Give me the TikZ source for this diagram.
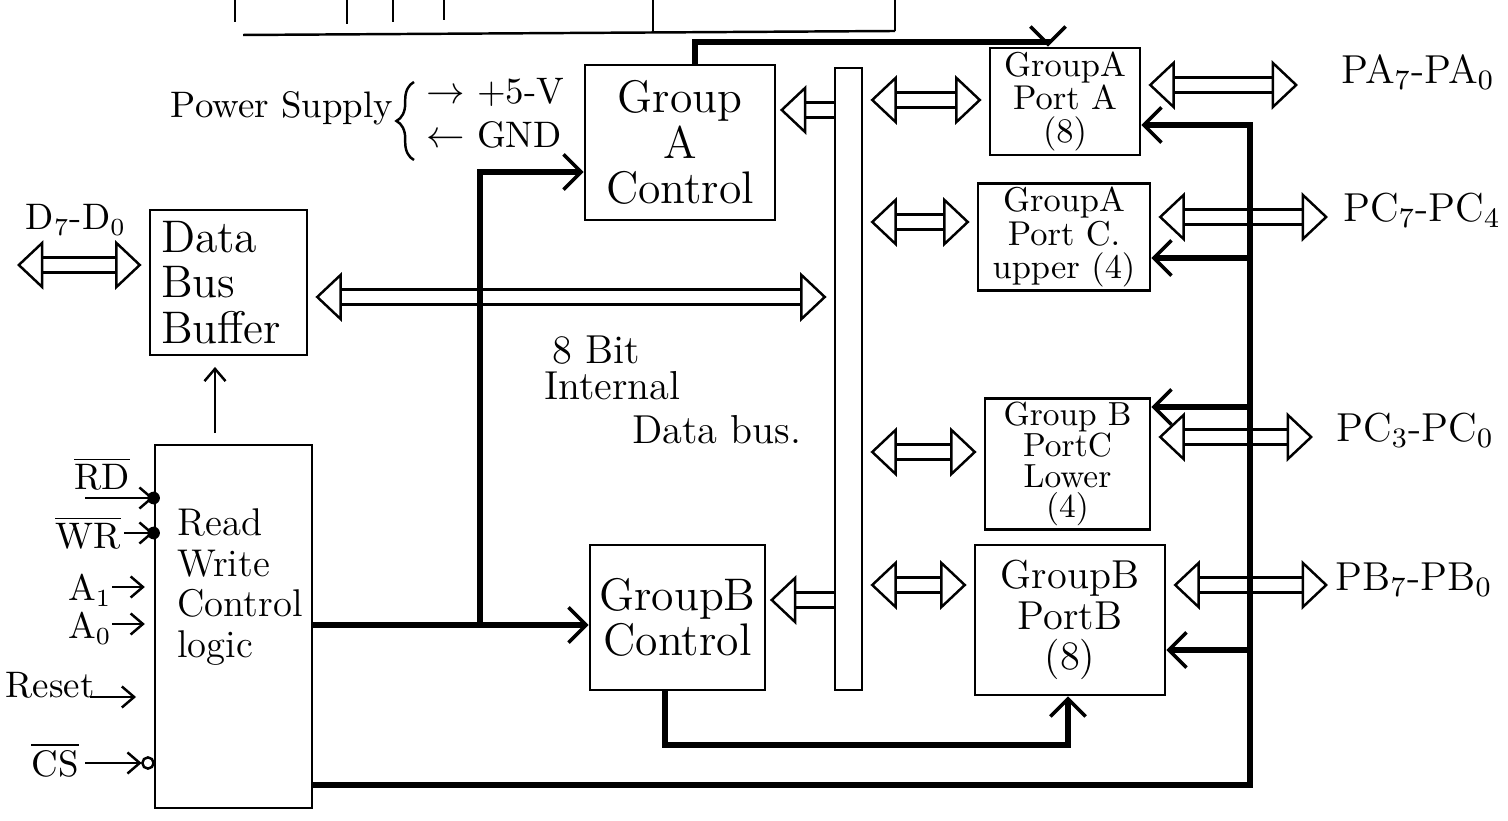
\documentclass[tikz,border=0pt]{standalone}
\usetikzlibrary{arrows.meta,decorations.pathreplacing}
\tikzset{
  box/.style={draw, line width=0.8pt, inner sep=1pt, align=center},
  Hol/.tip={Triangle[open, length=7.5pt, width=14pt, line width=0.7pt]},
  wide/.style={double, double distance=3.6pt, line width=0.7pt},
  wboth/.style={wide, Hol-Hol, shorten <=2pt, shorten >=2pt},
  wone/.style={wide, -Hol, shorten >=1pt},
  ctl/.style={line width=1.6pt, -{Straight Barb[length=5pt, width=10pt, line width=1pt]}},
  sig/.style={line width=0.7pt, -{Straight Barb[length=3.5pt, width=6pt]}},
  thinl/.style={line width=0.7pt},
  lab/.style={inner sep=1pt},
  fbig/.style={font=\fontsize{13}{13}\selectfont},
  fmid/.style={font=\fontsize{11.5}{11.5}\selectfont},
  frw/.style={font=\fontsize{11}{11.5}\selectfont},
  fsm/.style={font=\fontsize{10.5}{10.5}\selectfont},
  fport/.style={font=\fontsize{9.8}{9.4}\selectfont},
  ftiny/.style={font=\fontsize{9.5}{8.8}\selectfont},
}
\begin{document}
\begin{tikzpicture}
\useasboundingbox (0,0) rectangle (15.08,-8.21);

% partial content at the top edge
\draw[thinl] (2.43,-0.35) -- (8.95,-0.31);
\draw[thinl] (2.35,0) -- (2.35,-0.22);
\draw[thinl] (3.47,0) -- (3.47,-0.24);
\draw[thinl] (3.93,0) -- (3.93,-0.22);
\draw[thinl] (4.44,0) -- (4.44,-0.20);
\draw[thinl] (6.53,0) -- (6.53,-0.33);
\draw[thinl] (8.95,0) -- (8.95,-0.31);

% blocks
\node[box, fbig, minimum width=1.90cm, minimum height=1.55cm] (gac) at (6.80,-1.425) {Group\\A\\Control};
\node[box, fbig, minimum width=1.57cm, minimum height=1.45cm, align=left, text width=1.35cm] (dbb) at (2.285,-2.825) {Data\\Bus\\Buffer};
\node[box, minimum width=1.57cm, minimum height=3.63cm] (rwl) at (2.335,-6.265) {};
\node[lab, frw, align=left] (rwlt) at (2.40,-5.87) {Read\\Write\\Control\\logic};
\node[box, fbig, minimum width=1.75cm, minimum height=1.45cm] (gbc) at (6.775,-6.175) {GroupB\\Control};
\node[draw, line width=0.8pt, minimum width=0.27cm, minimum height=6.22cm, inner sep=0pt] (bus) at (8.485,-3.79) {};
\node[box, fport, minimum width=1.50cm, minimum height=1.07cm] (pa) at (10.65,-1.015) {GroupA\\Port A\\(8)};
\node[box, fport, minimum width=1.72cm, minimum height=1.00cm] (pcu) at (10.64,-2.37) {GroupA\\Port C.\\upper (4)};
\node[box, ftiny, minimum width=1.65cm, minimum height=1.28cm] (pcl) at (10.675,-4.64) {Group B\\PortC\\Lower\\(4)};
\node[box, fmid, minimum width=1.90cm, minimum height=1.50cm] (pb) at (10.70,-6.20) {GroupB\\PortB\\(8)};

% power supply
\node[lab, fsm] (ps) at (2.82,-1.08) {Power Supply};
\draw[thinl, decorate, decoration={brace, amplitude=5pt}] (4.14,-1.60) -- (4.14,-0.82);
\node[lab, fsm, anchor=west] (p5) at (4.22,-0.92) {$\rightarrow$ +5-V};
\node[lab, fsm, anchor=west] (gnd) at (4.22,-1.35) {$\leftarrow$ GND};

% internal data bus label
\node[lab, fmid, anchor=west] (ib1) at (5.48,-3.50) {8 Bit};
\node[lab, fmid, anchor=west] (ib2) at (5.40,-3.86) {Internal};
\node[lab, fmid, anchor=west] (ib3) at (6.28,-4.30) {Data bus.};

% wide data arrows
\coordinate (d7end) at (0.10,-2.65);
\draw[wboth] (d7end) -- (d7end -| dbb.west);
\node[lab, fsm] (d7lab) at (0.76,-2.20) {D$_7$-D$_0$};
\draw[wboth] (dbb.east |- 0,-2.97) -- (bus.west |- 0,-2.97);
\draw[wone] (bus.west |- 0,-1.10) -- (gac.east |- 0,-1.10);
\draw[wone] (bus.west |- 0,-6.00) -- (gbc.east |- 0,-6.00);
\draw[wboth] (bus.east |- 0,-1.00) -- (pa.west |- 0,-1.00);
\draw[wboth] (bus.east |- 0,-2.22) -- (pcu.west |- 0,-2.22);
\draw[wboth] (bus.east |- 0,-4.52) -- (pcl.west |- 0,-4.52);
\draw[wboth] (bus.east |- 0,-5.85) -- (pb.west |- 0,-5.85);

\coordinate (pao) at (13.05,-0.85);
\draw[wboth] (pa.east |- pao) -- (pao);
\node[lab, fmid] (palab) at (14.18,-0.72) {PA$_7$-PA$_0$};
\coordinate (pco) at (13.35,-2.17);
\draw[wboth] (pcu.east |- pco) -- (pco);
\node[lab, fmid] (pculab) at (14.22,-2.10) {PC$_7$-PC$_4$};
\coordinate (plo) at (13.20,-4.37);
\draw[wboth] (pcl.east |- plo) -- (plo);
\node[lab, fmid] (pcllab) at (14.15,-4.30) {PC$_3$-PC$_0$};
\coordinate (pbo) at (13.35,-5.85);
\draw[wboth] (pb.east |- pbo) -- (pbo);
\node[lab, fmid] (pblab) at (14.14,-5.80) {PB$_7$-PB$_0$};

% control lines
\coordinate (jA) at (4.80,-1.72);
\coordinate (jB) at (4.80,-6.25);
\draw[ctl] (rwl.east |- jB) -- (jB -| gbc.west);
\draw[ctl] (jB) -- (jA) -- (jA -| gac.west);

\coordinate (tA) at (6.95,-0.42);
\coordinate (tB) at (10.48,-0.42);
\draw[ctl] (gac.north -| tA) -- (tA) -- (tB) -- (tB |- pa.north);

\coordinate (bA) at (6.65,-7.45);
\coordinate (bB) at (10.68,-7.45);
\draw[ctl] (gbc.south -| bA) -- (bA) -- (bB) -- (bB |- pb.south);

\coordinate (rA) at (12.50,-7.85);
\coordinate (rB) at (12.50,-1.25);
\coordinate (rC) at (12.50,-2.58);
\coordinate (rD) at (12.50,-4.07);
\coordinate (rE) at (12.50,-6.50);
\draw[ctl] (rwl.east |- rA) -- (rA) -- (rB) -- (rB -| pa.east);
\draw[ctl] (rC) -- (rC -| pcu.east);
\draw[ctl] (rD) -- (rD -| pcl.east);
\draw[ctl] (rE) -- (rE -| pb.east);

% read/write logic to data bus buffer
\coordinate (up) at (2.15,0);
\draw[sig, shorten <=3pt, shorten >=3pt] (rwl.north -| up) -- (dbb.south -| up);

% input signals
\coordinate (rdT) at (0.85,-4.98);
\draw[sig] (rdT) -- (rdT -| rwl.west);
\fill (rdT -| rwl.west) circle (1.8pt);
\node[lab, fsm] (rdlab) at (1.02,-4.74) {$\overline{\mbox{RD}}$};

\coordinate (wrT) at (1.24,-5.33);
\draw[sig] (wrT) -- (wrT -| rwl.west);
\fill (wrT -| rwl.west) circle (1.8pt);
\node[lab, fsm] (wrlab) at (0.88,-5.33) {$\overline{\mbox{WR}}$};

\coordinate (a1T) at (1.12,-5.87);
\draw[sig, shorten >=2.5pt] (a1T) -- (a1T -| rwl.west);
\node[lab, fsm] (a1lab) at (0.90,-5.90) {A$_1$};

\coordinate (a0T) at (1.12,-6.24);
\draw[sig, shorten >=2.5pt] (a0T) -- (a0T -| rwl.west);
\node[lab, fsm] (a0lab) at (0.90,-6.28) {A$_0$};

\coordinate (rsT) at (0.90,-6.97);
\draw[sig, shorten >=5pt] (rsT) -- (rsT -| rwl.west);
\node[lab, fsm] (rslab) at (0.50,-6.85) {Reset};

\coordinate (csT) at (0.85,-7.63);
\draw[sig, shorten >=3.4pt] (csT) -- (csT -| rwl.west);
\draw[thinl] ([xshift=-1.6pt]csT -| rwl.west) circle (1.6pt);
\node[lab, fsm] (cslab) at (0.55,-7.60) {$\overline{\mbox{CS}}$};
\end{tikzpicture}
\end{document}
